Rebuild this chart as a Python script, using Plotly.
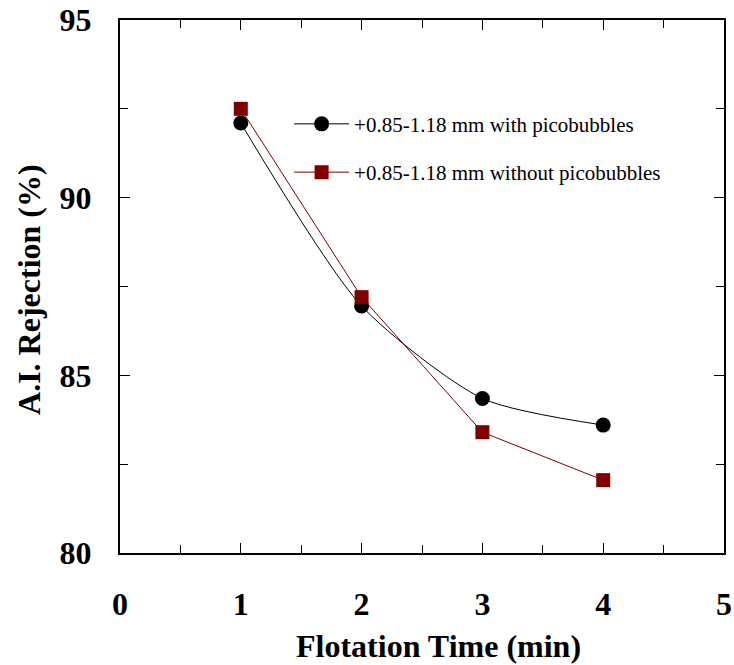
import plotly.graph_objects as go

time_min = [1, 2, 3, 4]
with_pico = [92.1, 86.95, 84.35, 83.6]
without_pico = [92.5, 87.2, 83.4, 82.05]

x_ticks = [0, 1, 2, 3, 4, 5]
y_ticks = [80, 85, 90, 95]

x_title = "Flotation Time (min)"
y_title = "A.I. Rejection (%)"

font_family = "Liberation Serif, Times New Roman, serif"

fig = go.Figure()
fig.add_trace(go.Scatter(
    x=time_min, y=with_pico, mode="lines+markers",
    name="+0.85-1.18 mm with picobubbles",
    line=dict(color="black", width=1, shape="spline", smoothing=0.7),
    marker=dict(symbol="circle", size=15, color="black"),
    legendgroup="a",
))
fig.add_trace(go.Scatter(
    x=time_min, y=without_pico, mode="lines+markers",
    name="+0.85-1.18 mm without picobubbles",
    line=dict(color="#800000", width=1),
    marker=dict(symbol="square", size=14, color="#800000"),
    legendgroup="b",
))

axis_common = dict(
    showgrid=False, zeroline=False, showline=True, linecolor="black", linewidth=2,
    mirror="ticks", ticks="inside", ticklen=10, tickwidth=1, tickcolor="black",
    tickfont=dict(family=font_family, size=32, color="black", weight="bold"),
    automargin=False, ticklabeloverflow="allow",
)

fig.update_xaxes(
    range=[0, 5], tickvals=x_ticks, ticktext=[str(v) for v in x_ticks],
    minor=dict(dtick=0.5, ticks="inside", ticklen=8, tickwidth=1, tickcolor="black"),
    ticklabelstandoff=22,
    **axis_common,
)
fig.update_yaxes(
    range=[80, 95], tickvals=y_ticks, ticktext=[str(v) for v in y_ticks],
    minor=dict(dtick=2.5, ticks="inside", ticklen=8, tickwidth=1, tickcolor="black"),
    ticklabelstandoff=20,
    **axis_common,
)

title_font = dict(family=font_family, size=32, color="black")
fig.add_annotation(
    text="<b>" + x_title + "</b>", xref="paper", yref="paper",
    x=0.5265, y=-0.174, xanchor="center", yanchor="middle",
    showarrow=False, font=title_font, borderpad=0,
)
fig.add_annotation(
    text="<b>" + y_title + "</b>", xref="paper", yref="paper",
    x=-0.151, y=0.495, xanchor="center", yanchor="middle", textangle=-90,
    showarrow=False, font=title_font, borderpad=0,
)

fig.update_layout(
    width=734, height=665,
    margin=dict(l=120, r=10, t=20, b=112),
    paper_bgcolor="white", plot_bgcolor="white",
    font=dict(family=font_family, color="black"),
    legend=dict(
        x=0.28, y=0.843, xanchor="left", yanchor="top",
        font=dict(family=font_family, size=21, color="black"),
        bgcolor="rgba(0,0,0,0)", traceorder="grouped", tracegroupgap=18,
        itemwidth=55,
    ),
)

fig.write_html(
    "out.html",
    config={"displayModeBar": False},
    post_script="document.body.style.margin='0px';document.body.style.overflow='hidden';",
)
